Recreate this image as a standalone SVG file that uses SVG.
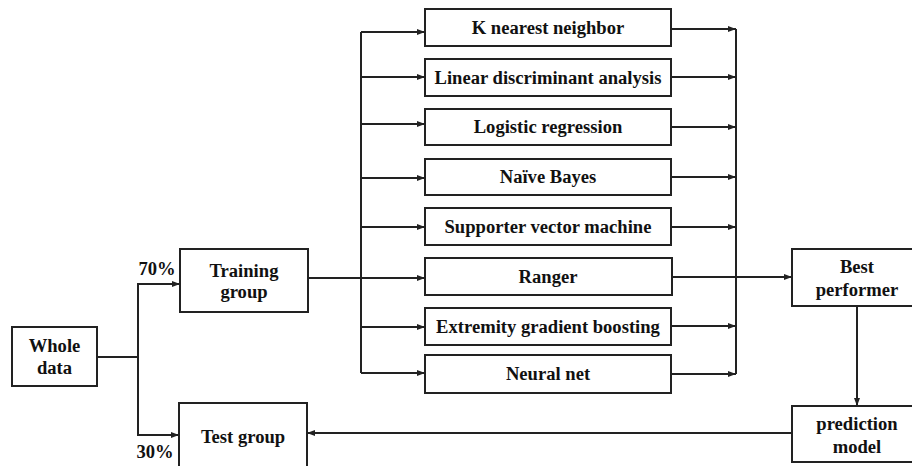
<svg xmlns="http://www.w3.org/2000/svg" width="912" height="466" viewBox="0 0 912 466">
<style>
.box{fill:#fff;stroke:#222;stroke-width:2}
.t{font-family:'Liberation Serif','Times New Roman','DejaVu Serif',serif;font-weight:700;font-size:18.6px;fill:#111;text-anchor:middle}
.c{fill:none;stroke:#222;stroke-width:2}
</style>
<defs>
<marker id="ah" markerUnits="userSpaceOnUse" markerWidth="8" markerHeight="8" viewBox="0 0 8 8" refX="8" refY="4" orient="auto">
<path d="M0,1 L8,4 L0,7 Z" fill="#222"/>
</marker>
</defs>
<rect width="912" height="466" fill="#fff"/>
<g id="connectors">
<path class="c" d="M97,357 H138 V284 H180" marker-end="url(#ah)"/>
<path class="c" d="M138,357 V435 H179" marker-end="url(#ah)"/>
<path class="c" d="M308,278 H425" marker-end="url(#ah)"/>
<path class="c" d="M361,32 V373"/>
<path class="c" d="M361,32 H425" marker-end="url(#ah)"/>
<path class="c" d="M361,77 H425" marker-end="url(#ah)"/>
<path class="c" d="M361,124 H425" marker-end="url(#ah)"/>
<path class="c" d="M361,178 H425" marker-end="url(#ah)"/>
<path class="c" d="M361,227 H425" marker-end="url(#ah)"/>
<path class="c" d="M361,327 H425" marker-end="url(#ah)"/>
<path class="c" d="M361,373 H425" marker-end="url(#ah)"/>
<path class="c" d="M736,29 V374"/>
<path class="c" d="M671,29 H736" marker-end="url(#ah)"/>
<path class="c" d="M671,77 H736" marker-end="url(#ah)"/>
<path class="c" d="M671,127 H736" marker-end="url(#ah)"/>
<path class="c" d="M671,177 H736" marker-end="url(#ah)"/>
<path class="c" d="M671,227 H736" marker-end="url(#ah)"/>
<path class="c" d="M671,326 H736" marker-end="url(#ah)"/>
<path class="c" d="M671,374 H736" marker-end="url(#ah)"/>
<path class="c" d="M672,277 H792" marker-end="url(#ah)"/>
<path class="c" d="M857,306 V406" marker-end="url(#ah)"/>
<path class="c" d="M792,433 H307" marker-end="url(#ah)"/>
</g>
<g id="whole">
<rect class="box" x="12" y="327" width="85" height="59"/>
<text class="t" x="54.5" y="352">Whole</text>
<text class="t" x="54.5" y="374">data</text>
</g>
<text class="t" x="157" y="275">70%</text>
<text class="t" x="155" y="458">30%</text>
<g id="training">
<rect class="box" x="180" y="249" width="128" height="63"/>
<text class="t" x="244" y="277">Training</text>
<text class="t" x="244" y="298">group</text>
</g>
<g id="test">
<rect class="box" x="179" y="403" width="128" height="70"/>
<text class="t" x="243" y="443">Test group</text>
</g>
<g id="knn"><rect class="box" x="425" y="9" width="246" height="37"/><text class="t" x="548" y="34">K nearest neighbor</text></g>
<g id="lda"><rect class="box" x="425" y="59" width="246" height="37"/><text class="t" x="548" y="84">Linear discriminant analysis</text></g>
<g id="lr"><rect class="box" x="425" y="109" width="246" height="36"/><text class="t" x="548" y="133">Logistic regression</text></g>
<g id="nb"><rect class="box" x="425" y="159" width="246" height="36"/><text class="t" x="548" y="183">Naïve Bayes</text></g>
<g id="svm"><rect class="box" x="425" y="208" width="246" height="37"/><text class="t" x="548" y="233">Supporter vector machine</text></g>
<g id="ranger"><rect class="box" x="425" y="258" width="247" height="37"/><text class="t" x="548" y="283">Ranger</text></g>
<g id="xgb"><rect class="box" x="425" y="308" width="246" height="37"/><text class="t" x="548" y="333">Extremity gradient boosting</text></g>
<g id="nn"><rect class="box" x="425" y="355" width="246" height="38"/><text class="t" x="548" y="380">Neural net</text></g>
<g id="best">
<rect class="box" x="792" y="249" width="125" height="57"/>
<text class="t" x="857" y="273">Best</text>
<text class="t" x="857" y="296">performer</text>
</g>
<g id="pred">
<rect class="box" x="792" y="406" width="125" height="56"/>
<text class="t" x="857" y="430">prediction</text>
<text class="t" x="857" y="453">model</text>
</g>
</svg>
